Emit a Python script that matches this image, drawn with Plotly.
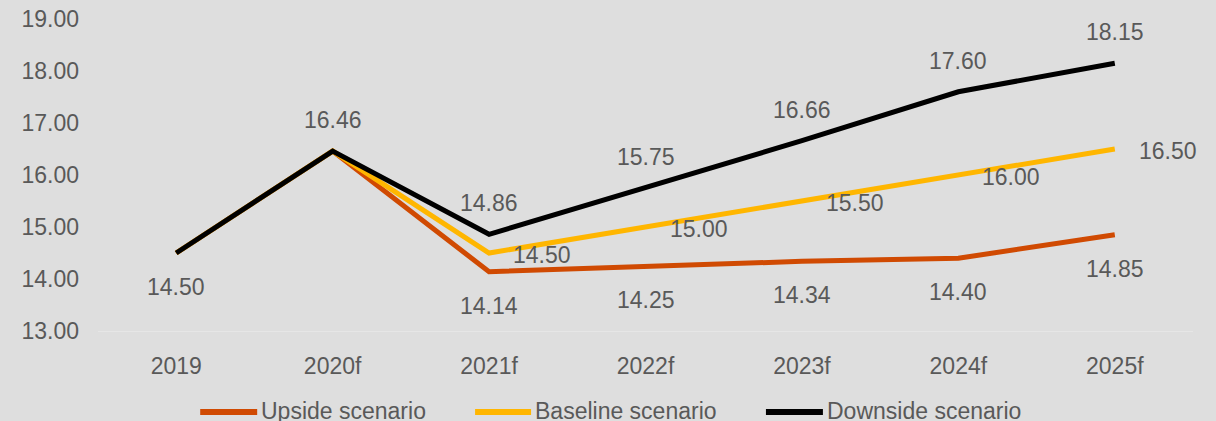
import plotly.graph_objects as go

# Scenario data
years = ["2019", "2020f", "2021f", "2022f", "2023f", "2024f", "2025f"]
upside = [14.50, 16.46, 14.14, 14.25, 14.34, 14.40, 14.85]
baseline = [14.50, 16.46, 14.50, 15.00, 15.50, 16.00, 16.50]
downside = [14.50, 16.46, 14.86, 15.75, 16.66, 17.60, 18.15]

series_names = ["Upside scenario", "Baseline scenario", "Downside scenario"]
series_values = [upside, baseline, downside]
series_colors = ["#D04A02", "#FFB600", "#000000"]

# Which points carry a value label, per series
upside_labelled = ["2019", "2021f", "2022f", "2023f", "2024f", "2025f"]
baseline_labelled = ["2021f", "2022f", "2023f", "2024f", "2025f"]
downside_labelled = ["2020f", "2021f", "2022f", "2023f", "2024f", "2025f"]

BG = "#DEDEDE"
TXT = "#595959"
FONT = "Liberation Sans, Arial, sans-serif"
FS = 23

fig = go.Figure()
for name, vals, col in zip(series_names, series_values, series_colors):
    fig.add_trace(go.Scatter(
        x=years, y=vals, mode="lines", name=name,
        line=dict(color=col, width=5), showlegend=False,
        hoverinfo="skip",
    ))

annotations = []
lab_font = dict(family=FONT, size=FS, color=TXT)
# Category positions are given by index so "2019" is not read as a number
# Upside labels sit below their points
for i, (x, v) in enumerate(zip(years, upside)):
    if x in upside_labelled:
        annotations.append(dict(x=i, y=v, xref="x", yref="y", text=f"{v:.2f}",
                                showarrow=False, yshift=-34, font=lab_font))
# Baseline labels sit to the right
for i, (x, v) in enumerate(zip(years, baseline)):
    if x in baseline_labelled:
        annotations.append(dict(x=i, y=v, xref="x", yref="y", text=f"{v:.2f}",
                                showarrow=False, xanchor="left", xshift=22,
                                yshift=-2, font=lab_font))
# Downside labels sit above
for i, (x, v) in enumerate(zip(years, downside)):
    if x in downside_labelled:
        annotations.append(dict(x=i, y=v, xref="x", yref="y", text=f"{v:.2f}",
                                showarrow=False, yshift=31, font=lab_font))

# Hand-built legend row beneath the axis
plot_top, plot_bottom = 19.0, 330.7
plot_left, plot_right = 97.75, 1193.25
ph = plot_bottom - plot_top
pw = plot_right - plot_left

def px_to_paper_x(px):
    return (px - plot_left) / pw

def px_to_paper_y(py):
    return (plot_bottom - py) / ph

legend_items = [(200, 257, series_names[0], series_colors[0]),
                (475, 531, series_names[1], series_colors[1]),
                (766, 823, series_names[2], series_colors[2])]
shapes = []
ly = 411.5
for x0, x1, name, col in legend_items:
    shapes.append(dict(type="line", xref="paper", yref="paper",
                       x0=px_to_paper_x(x0), x1=px_to_paper_x(x1),
                       y0=px_to_paper_y(ly), y1=px_to_paper_y(ly),
                       line=dict(color=col, width=6)))
    annotations.append(dict(x=px_to_paper_x(x1 + 2), y=px_to_paper_y(ly - 1),
                            xref="paper", yref="paper", text=name,
                            showarrow=False, xanchor="left", yanchor="middle",
                            font=lab_font))

fig.update_layout(
    width=1216, height=421,
    margin=dict(l=plot_left, r=1216 - plot_right, t=plot_top, b=421 - plot_bottom),
    paper_bgcolor=BG, plot_bgcolor=BG,
    font=dict(family=FONT, size=FS, color=TXT),
    showlegend=False,
    annotations=annotations,
    shapes=shapes,
    xaxis=dict(type="category", showgrid=False, zeroline=False,
               showline=True, linecolor="#E6E6E6", linewidth=1,
               ticks="", ticklabelstandoff=14, automargin=False,
               tickfont=dict(family=FONT, size=FS, color=TXT),
               range=[-0.5, 6.5], fixedrange=True),
    yaxis=dict(range=[13, 19], dtick=1, tick0=13, tickformat=".2f",
               showgrid=False, zeroline=False, showline=False,
               ticks="", ticklabelstandoff=18, automargin=False,
               tickfont=dict(family=FONT, size=FS, color=TXT),
               fixedrange=True),
)

fig.write_html("out.html", config={"displayModeBar": False})
